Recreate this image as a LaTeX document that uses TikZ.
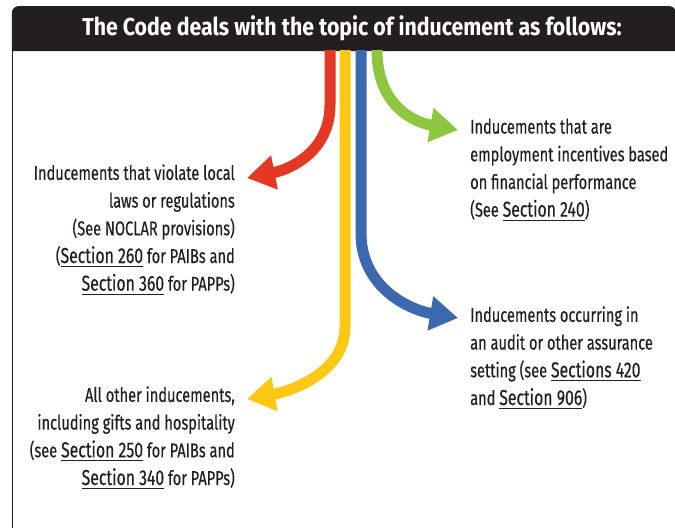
\documentclass[tikz,border=0pt]{standalone}
\usepackage{fontspec}
\setmainfont{Fira Sans}[FakeStretch=0.73, FakeBold=0.4]
\newfontfamily\titlefont{Fira Sans}[FakeStretch=0.87]
\usetikzlibrary{arrows.meta}
\definecolor{headblack}{RGB}{35,31,32}
\definecolor{textgray}{RGB}{35,31,32}
\definecolor{redA}{RGB}{226,56,36}
\definecolor{yellowA}{RGB}{253,200,20}
\definecolor{blueA}{RGB}{60,104,175}
\definecolor{greenA}{RGB}{141,198,63}
\newcommand\secul[1]{\setbox0=\hbox{\fontsize{21.6}{27.7}\selectfont #1}\rlap{\color{textgray}\rule[-3.8pt]{\wd0}{0.9pt}}\box0\relax}
\tikzset{
  flow/.style={line width=11pt, -{Triangle[length=28pt,width=33pt]}},
  body/.style={font=\fontsize{20}{27.7}\selectfont, text=textgray, inner sep=0pt},
}
\begin{document}
\begin{tikzpicture}[x=1pt,y=-1pt]
\useasboundingbox (0,0) rectangle (675,528);
% frame
\draw[textgray, line width=1.3pt] (12.5,45) -- (12.5,528);
\fill[headblack, rounded corners=7pt] (11.8,51) |- (676,6) [sharp corners] -- (676,51) -- cycle;
\node[text=white, font=\titlefont\bfseries\fontsize{24.5}{28}\selectfont, inner sep=0pt] (header) at (352,28.5) {The Code deals with the topic of inducement as follows:};
% start and end points
\coordinate (rs) at (330,50);
\coordinate (ys) at (345,50);
\coordinate (bs) at (361,50);
\coordinate (gs) at (377,50);
\coordinate (rt) at (247,178);
\coordinate (yt) at (247,399);
\coordinate (bt) at (458,318);
\coordinate (gt) at (458,130);
% arrows
\draw[flow, redA] (rs) -- (330,105) .. controls (330,150) and (292,169) .. (rt);
\draw[flow, yellowA] (ys) -- (345,327) .. controls (345,372) and (292,391) .. (yt);
\draw[flow, blueA] (bs) -- (361,233) .. controls (361,288) and (410,310) .. (bt);
\draw[flow, greenA] (gs) .. controls (377,105) and (413,122) .. (gt);
% texts (anchored at the baseline of their last line)
\node[body, align=right, anchor=base east] (redtext) at (235,290.7) {Inducements that violate local\\laws or regulations\\(See NOCLAR provisions)\\(\secul{Section 260} for PAIBs and\\\secul{Section 360} for PAPPs)};
\node[body, align=left, anchor=base west] (greentext) at (470,216.7) {Inducements that are\\employment incentives based\\on financial performance\\(See \secul{Section 240})};
\node[body, align=left, anchor=base west] (bluetext) at (470,405) {Inducements occurring in\\an audit or other assurance\\setting (see \secul{Sections 420}\\and \secul{Section 906})};
\node[body, align=right, anchor=base east] (yellowtext) at (235,485) {All other inducements,\\including gifts and hospitality\\(see \secul{Section 250} for PAIBs and\\\secul{Section 340} for PAPPs)};
\end{tikzpicture}
\end{document}
